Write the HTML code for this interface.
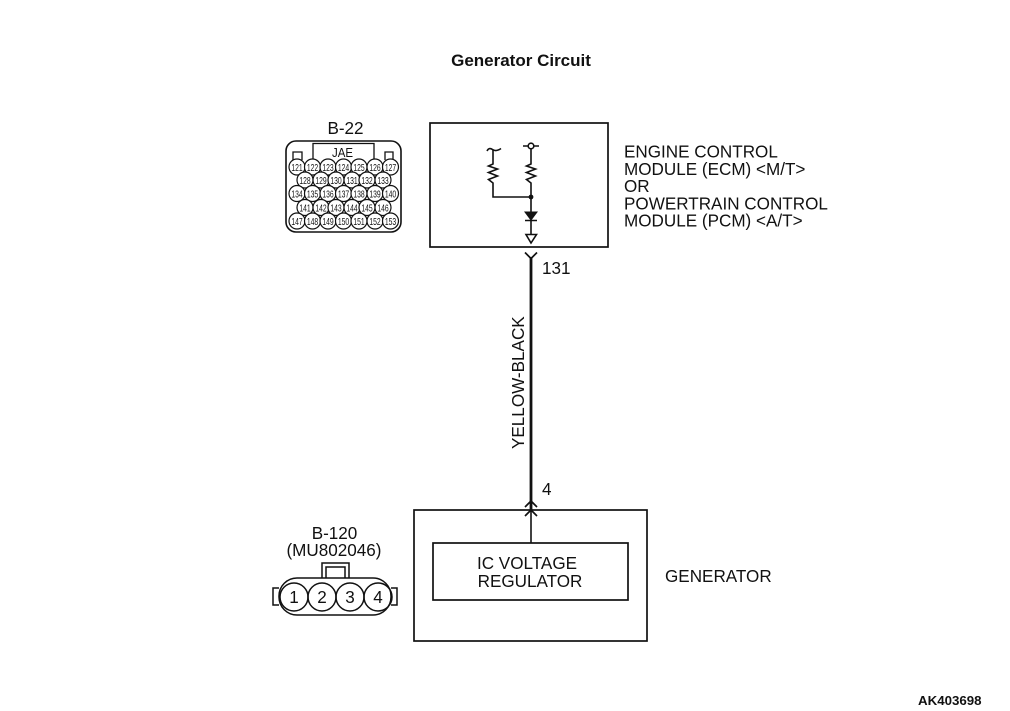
<!DOCTYPE html>
<html><head><meta charset="utf-8"><style>
html,body{margin:0;padding:0;background:#fff}
svg{display:block}
text{font-family:"Liberation Sans",sans-serif;fill:#111}
.l{font-size:17.1px}
.p{font-size:10px;text-anchor:middle;transform-box:fill-box;transform-origin:center;transform:scaleX(.68)}
</style></head><body>
<svg width="1010" height="711" viewBox="0 0 1010 711" xmlns="http://www.w3.org/2000/svg">
<rect width="1010" height="711" fill="#fff"/>
<text x="521" y="66" text-anchor="middle" font-weight="bold" font-size="17">Generator Circuit</text>
<text x="918" y="705" font-weight="bold" font-size="13.3">AK403698</text>

<!-- B-22 -->
<text x="345.500" y="134" text-anchor="middle" class="l">B-22</text>
<g fill="none" stroke="#111" stroke-width="1.600">
<rect x="286" y="141" width="115" height="91" rx="10"/>
<path d="M313 159V143.500H374V159" stroke-width="1.300"/>
<path d="M293 160V152H302V160M385 160V152H393V160" stroke-width="1.300"/>
</g>
<g fill="#fff" stroke="#111" stroke-width="1.200">
<circle cx="297" cy="167" r="8"/><circle cx="312.500" cy="167" r="8"/><circle cx="328" cy="167" r="8"/><circle cx="343.500" cy="167" r="8"/><circle cx="359" cy="167" r="8"/><circle cx="375" cy="167" r="8"/><circle cx="390.500" cy="167" r="8"/>
<circle cx="305" cy="180" r="8"/><circle cx="321" cy="180" r="8"/><circle cx="336" cy="180" r="8"/><circle cx="352" cy="180" r="8"/><circle cx="367" cy="180" r="8"/><circle cx="383" cy="180" r="8"/>
<circle cx="297" cy="193.500" r="8"/><circle cx="312.500" cy="193.500" r="8"/><circle cx="328" cy="193.500" r="8"/><circle cx="343.500" cy="193.500" r="8"/><circle cx="359" cy="193.500" r="8"/><circle cx="375" cy="193.500" r="8"/><circle cx="390.500" cy="193.500" r="8"/>
<circle cx="305" cy="207.500" r="8"/><circle cx="321" cy="207.500" r="8"/><circle cx="336" cy="207.500" r="8"/><circle cx="352" cy="207.500" r="8"/><circle cx="367" cy="207.500" r="8"/><circle cx="383" cy="207.500" r="8"/>
<circle cx="297" cy="221" r="8"/><circle cx="312.500" cy="221" r="8"/><circle cx="328" cy="221" r="8"/><circle cx="343.500" cy="221" r="8"/><circle cx="359" cy="221" r="8"/><circle cx="375" cy="221" r="8"/><circle cx="390.500" cy="221" r="8"/>
</g>
<text x="332" y="157" font-size="12.500" textLength="21" lengthAdjust="spacingAndGlyphs">JAE</text>
<g>
<text class="p" x="297" y="171">121</text><text class="p" x="312.500" y="171">122</text><text class="p" x="328" y="171">123</text><text class="p" x="343.500" y="171">124</text><text class="p" x="359" y="171">125</text><text class="p" x="375" y="171">126</text><text class="p" x="390.500" y="171">127</text>
<text class="p" x="305" y="184">128</text><text class="p" x="321" y="184">129</text><text class="p" x="336" y="184">130</text><text class="p" x="352" y="184">131</text><text class="p" x="367" y="184">132</text><text class="p" x="383" y="184">133</text>
<text class="p" x="297" y="197.500">134</text><text class="p" x="312.500" y="197.500">135</text><text class="p" x="328" y="197.500">136</text><text class="p" x="343.500" y="197.500">137</text><text class="p" x="359" y="197.500">138</text><text class="p" x="375" y="197.500">139</text><text class="p" x="390.500" y="197.500">140</text>
<text class="p" x="305" y="211.500">141</text><text class="p" x="321" y="211.500">142</text><text class="p" x="336" y="211.500">143</text><text class="p" x="352" y="211.500">144</text><text class="p" x="367" y="211.500">145</text><text class="p" x="383" y="211.500">146</text>
<text class="p" x="297" y="225">147</text><text class="p" x="312.500" y="225">148</text><text class="p" x="328" y="225">149</text><text class="p" x="343.500" y="225">150</text><text class="p" x="359" y="225">151</text><text class="p" x="375" y="225">152</text><text class="p" x="390.500" y="225">153</text>
</g>

<!-- ECM -->
<rect x="430" y="123" width="178" height="124" fill="none" stroke="#111" stroke-width="1.700"/>
<g fill="none" stroke="#111" stroke-width="1.600">
<path d="M487 151Q489 147 492.500 149.500T501 148.500"/>
<path d="M493 150V164L488.500 166L497.500 169L488.500 172.500L497.500 176L488.500 179.500L493 183V197H531"/>
<path d="M523 146H528M534 146H539"/>
<circle cx="531" cy="146" r="2.800"/>
<path d="M531 149V164L526.500 166L535.500 169L526.500 172.500L535.500 176L526.500 179.500L531 183V212"/>
<path d="M525 220.500H537M531 220V234"/>
<path d="M526 234.500H536.500L531 243Z"/>
</g>
<circle cx="531" cy="197" r="2.400" fill="#111"/>
<path d="M525 212H537L531 220Z" fill="#111" stroke="#111"/>

<text class="l"><tspan x="624" y="157.500">ENGINE CONTROL</tspan><tspan x="624" y="175">MODULE (ECM) &lt;M/T&gt;</tspan><tspan x="624" y="192">OR</tspan><tspan x="624" y="209.500">POWERTRAIN CONTROL</tspan><tspan x="624" y="226.500">MODULE (PCM) &lt;A/T&gt;</tspan></text>

<!-- wire -->
<path d="M531 257V510" stroke="#111" stroke-width="2.800" fill="none"/>
<path d="M525 252.500L531 258.500L537 252.500" stroke="#111" stroke-width="1.700" fill="none"/>
<path d="M531 510V543" stroke="#111" stroke-width="1.600" fill="none"/>
<path d="M525 507L531 501L537 507M525 516L531 510L537 516" stroke="#111" stroke-width="1.700" fill="none"/>
<text x="542" y="274" class="l">131</text>
<text x="542" y="495" class="l">4</text>
<text transform="translate(524,449) rotate(-90)" class="l">YELLOW-BLACK</text>

<!-- Generator -->
<rect x="414" y="510" width="233" height="131" fill="none" stroke="#111" stroke-width="1.700"/>
<rect x="433" y="543" width="195" height="57" fill="none" stroke="#111" stroke-width="1.700"/>
<text class="l" text-anchor="middle"><tspan x="527" y="569">IC VOLTAGE</tspan><tspan x="530" y="587">REGULATOR</tspan></text>
<text x="665" y="582" class="l">GENERATOR</text>

<!-- B-120 -->
<text class="l" text-anchor="middle"><tspan x="334.500" y="539">B-120</tspan><tspan x="334" y="556">(MU802046)</tspan></text>
<g fill="none" stroke="#111" stroke-width="1.500">
<path d="M322 578V563H349V578M326 578V567H345V578"/>
<rect x="279" y="578" width="112" height="37" rx="18"/>
<path d="M279 588H273V605H279M391 588H397V605H391"/>
<circle cx="294" cy="597" r="14"/><circle cx="322" cy="597" r="14"/><circle cx="350" cy="597" r="14"/><circle cx="378" cy="597" r="14"/>
</g>
<g class="l" text-anchor="middle"><text x="294" y="603">1</text><text x="322" y="603">2</text><text x="350" y="603">3</text><text x="378" y="603">4</text></g>
</svg>
</body></html>
